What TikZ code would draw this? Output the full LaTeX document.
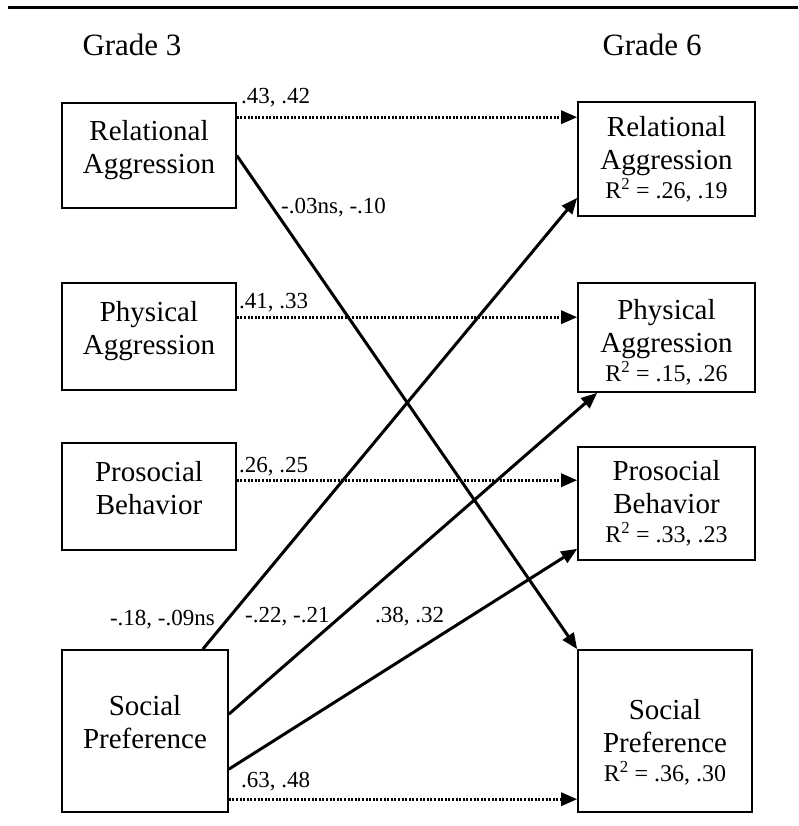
\documentclass[tikz,border=0pt]{standalone}
\usepackage{fontspec}
\setmainfont{Liberation Serif}
\usepackage{tikz}
\usetikzlibrary{arrows.meta}
\newcommand{\lowstrut}{\rule[-18pt]{0pt}{18pt}}
\newcommand{\rsq}[1]{\\[-4pt]{\fontsize{24}{26}\selectfont R\textsuperscript{2} = #1}}

\begin{document}
\begin{tikzpicture}[x=1pt,y=-1pt,line join=miter]
\tikzset{box/.style={draw,line width=1.6pt,inner sep=0pt,align=center,font=\fontsize{29}{33}\selectfont},
  lab/.style={inner sep=0pt,font=\fontsize{23}{25}\selectfont},
  path/.style={line width=3pt,-{Triangle[length=16pt,width=13pt]}},
  dotpath/.style={path,dash pattern=on 2pt off 1.6pt}}
\useasboundingbox (0,0) rectangle (798,826);

% ---------- heading ----------
\draw[line width=3pt] (8,8) -- (798,8);
\node[font=\fontsize{31}{33}\selectfont] (G3) at (132,45) {Grade 3};
\node[font=\fontsize{31}{33}\selectfont] (G6) at (652,45) {Grade 6};

% ---------- grade 3 ----------
\node[box,minimum width=174pt,minimum height=105pt] (L1) at (149,155.5) {Relational\\Aggression\lowstrut};
\node[box,minimum width=174pt,minimum height=107pt] (L2) at (149,336.5) {Physical\\Aggression\lowstrut};
\node[box,minimum width=174pt,minimum height=107pt] (L3) at (149,496.5) {Prosocial\\Behavior\lowstrut};
\node[box,minimum width=166pt,minimum height=162pt] (L4) at (145,731) {Social\\Preference\lowstrut};

% ---------- grade 6 ----------
\node[box,minimum width=177pt,minimum height=114pt] (R1) at (666.5,159) {Relational\\Aggression\rsq{.26, .19}};
\node[box,minimum width=177pt,minimum height=109pt] (R2) at (666.5,337.5) {\rule{0pt}{30pt}Physical\\Aggression\rsq{.15, .26}};
\node[box,minimum width=177pt,minimum height=113pt] (R3) at (666.5,503.5) {Prosocial\\Behavior\rsq{.33, .23}};
\node[box,minimum width=174pt,minimum height=162pt] (R4) at (665,731) {\rule{0pt}{43pt}Social\\Preference\rsq{.36, .30}};

% ---------- stability paths ----------
\draw[dotpath] ([yshift=-15pt]L1.north east) -- ([yshift=-16pt]R1.north west);
\draw[dotpath] ([yshift=-35pt]L2.north east) -- ([yshift=-35pt]R2.north west);
\draw[dotpath] ([yshift=-38pt]L3.north east) -- ([yshift=-34pt]R3.north west);
\draw[dotpath] ([yshift=-150pt]L4.north east) -- ([yshift=-150pt]R4.north west);

% ---------- cross paths ----------
\draw[path] (L1.east) -- (R4.north west);
\draw[path] ([xshift=-26pt]L4.north east) -- ([yshift=19pt]R1.south west);
\draw[path] ([yshift=-65pt]L4.north east) -- ([xshift=20pt]R2.south west);
\draw[path] ([yshift=-120pt]L4.north east) -- ([yshift=12pt]R3.south west);

% ---------- labels ----------
\node[lab,anchor=west] (a1) at (241,98) {.43, .42};
\node[lab,anchor=west] (a2) at (239,303) {.41, .33};
\node[lab,anchor=west] (a3) at (239,467) {.26, .25};
\node[lab,anchor=west] (a4) at (241,782) {.63, .48};
\node[lab,anchor=west] (b1) at (281,208) {-.03ns, -.10};
\node[lab,anchor=east] (b2) at (215,620) {-.18, -.09ns};
\node[lab,anchor=west] (b3) at (245,617) {-.22, -.21};
\node[lab,anchor=west] (b4) at (375,617) {.38, .32};

\end{tikzpicture}
\end{document}
